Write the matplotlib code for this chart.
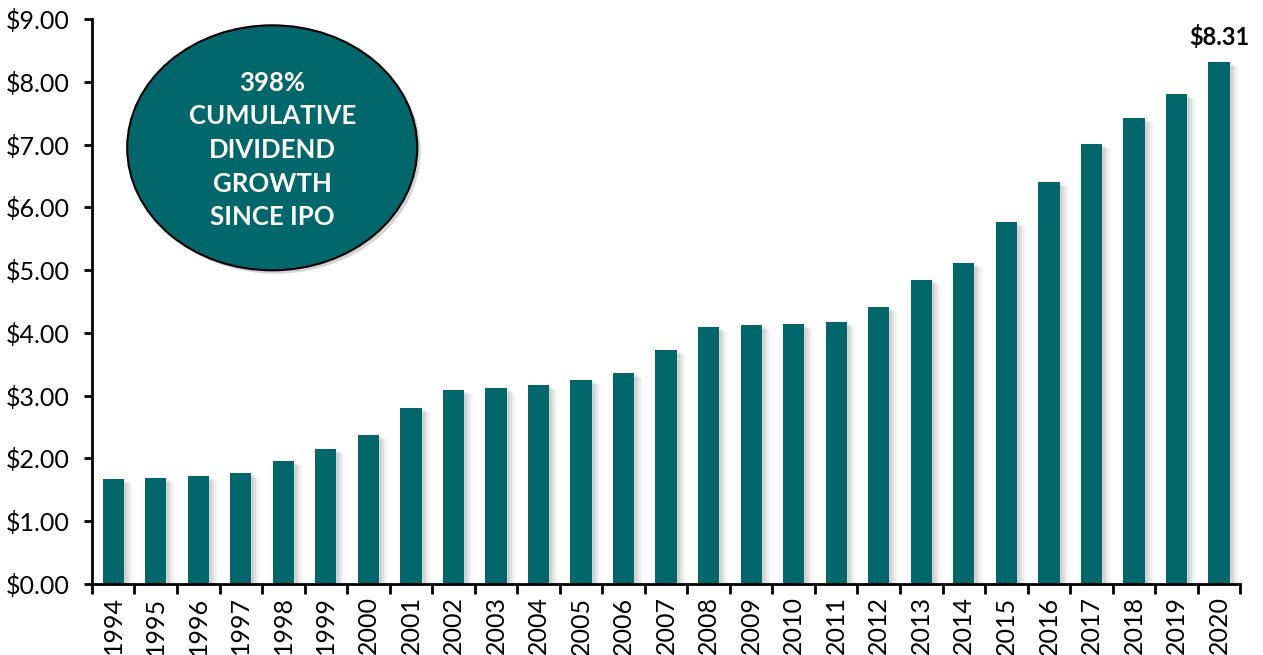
import numpy as np
import matplotlib.pyplot as plt
from matplotlib.patches import Ellipse
import matplotlib.transforms as mtransforms

# Annual dividend per share since IPO
years = [str(y) for y in range(1994, 2021)]
dividends = [1.67, 1.69, 1.72, 1.77, 1.96, 2.15, 2.37, 2.80, 3.09, 3.12,
             3.17, 3.25, 3.36, 3.73, 4.09, 4.12, 4.14, 4.17, 4.41, 4.84,
             5.11, 5.76, 6.40, 7.01, 7.43, 7.80, 8.31]
ytick_vals = [0, 1, 2, 3, 4, 5, 6, 7, 8, 9]
ytick_labels = [f'${v:.2f}' for v in ytick_vals]
callout_lines = ['398%', 'CUMULATIVE', 'DIVIDEND', 'GROWTH', 'SINCE IPO']
last_label = '$8.31'

teal = '#02676A'
plt.rcParams['font.family'] = ['Lato', 'DejaVu Sans']

fig = plt.figure(figsize=(12.63, 6.55), dpi=100)
ax = fig.add_axes([0.0728, 0.1084, 0.9092, 0.8626])

x = np.arange(len(years))

# soft drop shadow behind the bars
for k, a in enumerate([0.10, 0.08, 0.06, 0.04]):
    shift = mtransforms.ScaledTranslation((3 + 2 * k) / 100, -(2 + k) / 100, fig.dpi_scale_trans)
    ax.bar(x, dividends, width=0.5, color='#555555', alpha=a,
           transform=ax.transData + shift, zorder=1)

ax.bar(x, dividends, width=0.5, color=teal, zorder=2)

ax.text(x[-1], dividends[-1] + 0.22, last_label, ha='center', va='bottom',
        fontsize=17, fontweight='bold')

# callout bubble
shadow = Ellipse((0.160, 0.766), 0.2526, 0.4336, transform=ax.transAxes,
                 facecolor='#888888', alpha=0.35, edgecolor='none', zorder=3)
ax.add_patch(shadow)
bubble = Ellipse((0.157, 0.772), 0.2526, 0.4336, transform=ax.transAxes,
                 facecolor=teal, edgecolor='black', linewidth=1.5, zorder=4)
ax.add_patch(bubble)
ax.text(0.157, 0.768, '\n'.join(callout_lines), transform=ax.transAxes,
        ha='center', va='center', color='white', fontsize=18.5,
        fontweight='bold', linespacing=1.48, zorder=5)

ax.set_xlim(-0.5, len(years) - 0.5)
ax.set_ylim(0, 9)
ax.set_yticks(ytick_vals)
ax.set_yticklabels(ytick_labels, fontsize=18)
ax.set_xticks(x)
ax.set_xticklabels(years, rotation=90, fontsize=18)
ax.set_xticks(np.arange(-0.5, len(years)), minor=True)
ax.tick_params(axis='x', which='major', length=0, pad=9)
ax.tick_params(axis='x', which='minor', length=7, width=2, direction='out')
ax.tick_params(axis='y', length=6, width=2, direction='out', pad=10)

for side in ['top', 'right']:
    ax.spines[side].set_visible(False)
for side in ['left', 'bottom']:
    ax.spines[side].set_linewidth(2)

fig.savefig('out.png', dpi=100)
